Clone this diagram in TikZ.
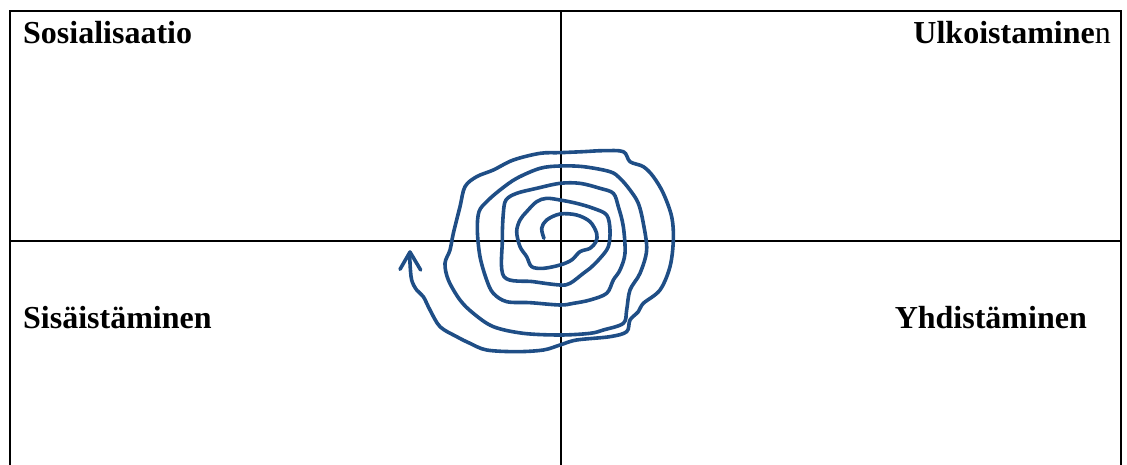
\documentclass[tikz,border=0pt]{standalone}
\usepackage{fontspec}
\setmainfont{Liberation Serif}
\definecolor{spiralblue}{RGB}{31,78,134}
\begin{document}
\begin{tikzpicture}[x=1pt,y=-1pt,
  frame/.style={line width=1.6pt,black},
  lbl/.style={inner sep=0pt,font=\fontsize{32}{38}\selectfont\bfseries},
  spiral/.style={spiralblue,line width=3.6pt,line cap=round,line join=round}]
\useasboundingbox (0,0) rectangle (1127,465);
\coordinate (tl) at (10,11);
\coordinate (tr) at (1121,11);
\coordinate (bl) at (10,465);
\coordinate (br) at (1121,465);
\coordinate (vt) at (561,11);
\coordinate (vb) at (561,465);
\coordinate (hl) at (10,241);
\coordinate (hr) at (1121,241);
\draw[frame] (bl) -- (tl) -- (tr) -- (br);
\draw[frame] (vt) -- (vb);
\draw[frame] (hl) -- (hr);
\node[lbl,anchor=base west] (sos) at (23,44) {Sosialisaatio};
\node[lbl,anchor=base east] (ulk) at (1111,44) {Ulkoistamine\mdseries n};
\node[lbl,anchor=base west] (sis) at (23,328) {Sisäistäminen};
\node[lbl,anchor=base east] (yhd) at (1087,328) {Yhdistäminen};
\begin{scope}[shift={(390,140)},scale=1/3]
\draw[spiral] plot[smooth,tension=0.55] coordinates {
(462,295) (455,265) (470,240) (510,222) (560,225) (600,245) (620,280) (618,305)
(600,325) (570,335) (545,360) (510,375) (460,385) (425,380) (410,350) (390,320)
(380,275) (390,240) (410,215) (440,185) (470,175) (510,180) (560,190) (610,205)
(650,225) (660,270) (655,320) (630,355) (600,385) (580,400) (540,430) (510,435)
(430,425) (342,410) (337,300) (340,220) (348,180) (380,160) (440,145) (510,130)
(570,130) (630,145) (670,160) (685,200) (700,260) (705,340) (690,390) (670,420)
(650,460) (600,480) (550,490) (510,495) (420,488) (350,485) (310,460) (290,420)
(270,350) (262,270) (267,215) (290,185) (330,150) (380,115) (450,85) (510,78)
(580,80) (660,95) (690,115) (720,150) (745,190) (760,250) (770,330) (750,400)
(720,450) (710,510) (700,550) (640,570) (600,580) (510,585) (400,580) (310,560)
(250,520) (210,480) (175,420) (165,370) (180,330) (190,280) (210,200) (225,140)
(260,110) (310,90) (370,60) (450,40) (510,38) (580,35) (640,32) (700,35)
(720,65) (760,80) (790,110) (820,160) (845,230) (850,300) (840,380) (810,450)
(760,490) (745,515) (720,540) (710,575) (660,590) (560,600) (510,615) (460,630)
(380,635) (290,630) (240,610) (200,590) (150,560) (120,510) (100,470) (80,450)
(65,420) (60,370) (60,338)};
\draw[spiral] (30,388) -- (60,336) -- (92,390);
\end{scope}
\end{tikzpicture}
\end{document}
